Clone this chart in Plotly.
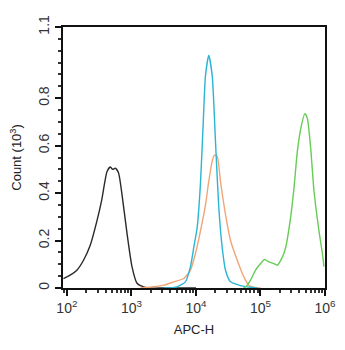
import plotly.graph_objects as go

# log10(APC-H) positions and counts (x10^3)
black_logx = [1.947, 2.051, 2.155, 2.258, 2.362, 2.466, 2.543, 2.621, 2.672, 2.71, 2.750, 2.801, 2.854, 2.932, 3.009, 3.087, 3.189, 3.293, 3.5, 4.0]
black_y    = [0.040, 0.054, 0.075, 0.117, 0.180, 0.283, 0.375, 0.490, 0.510, 0.50, 0.505, 0.485, 0.395, 0.230, 0.090, 0.020, 0.005, 0.0, 0.0, 0.0]

cyan_logx = [3.5, 3.708, 3.837, 3.915, 3.966, 4.019, 4.070, 4.112, 4.148, 4.199, 4.252, 4.303, 4.354, 4.407, 4.458, 4.536, 4.691, 4.846, 4.95]
cyan_y    = [0.0, 0.005, 0.026, 0.090, 0.170, 0.255, 0.440, 0.690, 0.895, 0.980, 0.895, 0.617, 0.340, 0.170, 0.075, 0.026, 0.010, 0.003, 0.0]

orange_logx = [3.138, 3.340, 3.500, 3.655, 3.811, 3.915, 3.992, 4.070, 4.148, 4.199, 4.252, 4.287, 4.329, 4.380, 4.458, 4.536, 4.640, 4.742, 4.820, 4.893, 5.0]
orange_y    = [0.0, 0.005, 0.012, 0.026, 0.040, 0.075, 0.145, 0.240, 0.350, 0.450, 0.535, 0.560, 0.555, 0.450, 0.310, 0.200, 0.117, 0.047, 0.012, 0.003, 0.0]

green_logx = [4.738, 4.795, 4.846, 4.924, 5.002, 5.064, 5.130, 5.208, 5.261, 5.339, 5.390, 5.468, 5.519, 5.571, 5.623, 5.689, 5.727, 5.778, 5.829, 5.907, 5.960, 5.984]
green_y    = [0.0, 0.012, 0.033, 0.075, 0.103, 0.120, 0.110, 0.103, 0.096, 0.130, 0.170, 0.300, 0.420, 0.575, 0.670, 0.735, 0.714, 0.590, 0.410, 0.240, 0.145, 0.090]

x_tickvals = [100, 1000, 10000, 100000, 1000000]
x_ticktext = ["10<sup>2</sup>", "10<sup>3</sup>", "10<sup>4</sup>", "10<sup>5</sup>", "10<sup>6</sup>"]
y_tickvals = [0, 0.2, 0.4, 0.6, 0.8, 1.1]
y_ticktext = ["0", "0.2", "0.4", "0.6", "0.8", "1.1"]

series = [
    (black_logx, black_y, "#2a2a2a"),
    (orange_logx, orange_y, "#f0a578"),
    (cyan_logx, cyan_y, "#2bb5d3"),
    (green_logx, green_y, "#66cc55"),
]

fig = go.Figure()
for lx, yy, col in series:
    fig.add_trace(go.Scatter(x=[10 ** v for v in lx], y=yy, mode="lines",
                             line=dict(color=col, width=1.4, shape="spline", smoothing=0.6),
                             showlegend=False, hoverinfo="skip"))

font = "Liberation Sans, Arial, sans-serif"
fig.update_layout(
    width=345, height=350,
    margin=dict(l=55, r=28, t=19, b=70),
    paper_bgcolor="white", plot_bgcolor="white",
    font=dict(family=font, color="#222", size=13),
    xaxis=dict(type="log", range=[1.94, 6.0], tickvals=x_tickvals, ticktext=x_ticktext,
               automargin=False,
               ticks="outside", ticklen=6, tickwidth=1.5, tickcolor="#111",
               showline=True, linecolor="#111", linewidth=2, mirror=True,
               showgrid=False, zeroline=False,
               tickfont=dict(size=14, family=font, color="#333"),
               minor=dict(ticks="outside", ticklen=3, tickcolor="#333", dtick="D1", showgrid=False),
               title=dict(text="APC-H", font=dict(size=13, family=font, color="#222"), standoff=10)),
    yaxis=dict(range=[0, 1.1], tickvals=y_tickvals, ticktext=y_ticktext, tickangle=-90,
               automargin=False,
               ticks="outside", ticklen=6, tickwidth=1.5, tickcolor="#111",
               showline=True, linecolor="#111", linewidth=2, mirror=True,
               showgrid=False, zeroline=False,
               tickfont=dict(size=14, family=font, color="#333"),
               minor=dict(ticks="outside", ticklen=3, tickcolor="#333", dtick=0.05, tick0=0, showgrid=False),
               title=dict(text="Count (10<sup>3</sup>)", font=dict(size=13, family=font, color="#222"), standoff=13)),
)

fig.write_html("out.html")
